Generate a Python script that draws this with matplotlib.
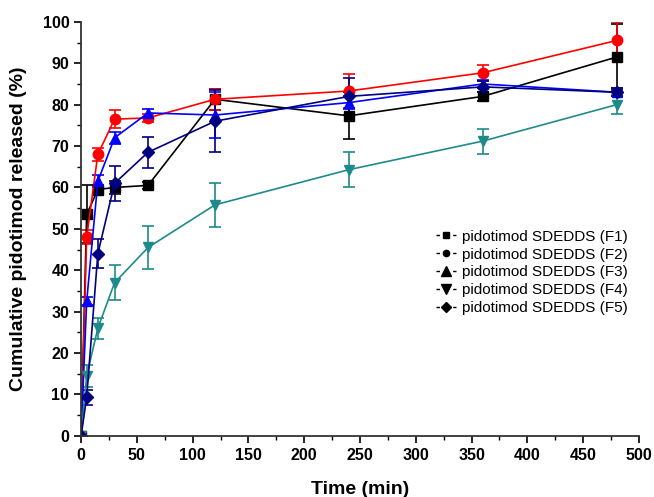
import numpy as np
import matplotlib.pyplot as plt
from matplotlib.lines import Line2D
from matplotlib.ticker import MultipleLocator

plt.rcParams['font.family'] = ['Liberation Sans', 'DejaVu Sans']

# tiempos de muestreo (min)
t = [0, 5, 15, 30, 60, 120, 240, 360, 480]

f1 = [0, 53.5, 59.5, 60.0, 60.5, 81.3, 77.3, 82.0, 91.5]
f1_err = [0, 7.0, 1.0, 1.5, 0.8, 2.5, 5.7, 1.0, 8.0]
f2 = [0, 48.0, 68.0, 76.5, 76.8, 81.3, 83.3, 87.7, 95.5]
f2_err = [0, 1.7, 1.5, 2.2, 1.0, 2.5, 4.0, 2.0, 4.5]
f3 = [0, 32.5, 61.5, 72.0, 78.0, 77.5, 80.5, 85.0, 83.0]
f3_err = [0, 1.0, 1.5, 1.5, 1.0, 5.5, 1.5, 1.0, 1.0]
f4 = [0, 14.5, 26.0, 37.0, 45.5, 55.8, 64.3, 71.2, 80.0]
f4_err = [0, 2.7, 2.5, 4.2, 5.2, 5.4, 4.2, 3.0, 2.3]
f5 = [0, 9.3, 44.0, 61.0, 68.5, 76.0, 82.0, 84.3, 83.0]
f5_err = [0, 1.8, 3.5, 4.3, 3.8, 7.5, 4.5, 1.3, 1.0]

labels = ['pidotimod SDEDDS (F1)', 'pidotimod SDEDDS (F2)', 'pidotimod SDEDDS (F3)',
          'pidotimod SDEDDS (F4)', 'pidotimod SDEDDS (F5)']

series = [(f1, f1_err, 's', 'black'),
          (f2, f2_err, 'o', '#ff0000'),
          (f3, f3_err, '^', '#0000ff'),
          (f4, f4_err, 'v', '#1f8a8a'),
          (f5, f5_err, 'D', '#000080')]

fig = plt.figure(figsize=(6.54, 4.97), dpi=100)
ax = fig.add_axes([0.124, 0.123, 0.853, 0.833])

for y, e, m, c in series:
    ms = 6.5 if m == 'D' else 7.5
    ax.errorbar(t, y, yerr=e, color=c, marker=m, markersize=ms, linewidth=1.2,
                elinewidth=1.2, capsize=4, capthick=1.2)

ax.set_xlim(0, 500)
ax.set_ylim(0, 100)
ax.xaxis.set_major_locator(MultipleLocator(50))
ax.xaxis.set_minor_locator(MultipleLocator(25))
ax.yaxis.set_major_locator(MultipleLocator(10))
ax.yaxis.set_minor_locator(MultipleLocator(5))
ax.spines['top'].set_visible(False)
ax.spines['right'].set_visible(False)
for s in ['left', 'bottom']:
    ax.spines[s].set_linewidth(1.3)
    ax.spines[s].set_color('#333333')
ax.tick_params(which='major', direction='out', length=5, width=1.2, labelsize=11.5)
ax.tick_params(which='minor', direction='out', length=3, width=1.0)
for lab in ax.get_xticklabels() + ax.get_yticklabels():
    lab.set_fontweight('bold')

ax.set_xlabel('Time (min)', fontsize=14, fontweight='bold', labelpad=13)
ax.set_ylabel('Cumulative pidotimod released (%)', fontsize=14, fontweight='bold', labelpad=11)

# leyenda con marcadores negros
tamanos = {'s': 4.5, 'o': 4.5, '^': 7, 'v': 7, 'D': 5.5}
handles = [Line2D([], [], color='black', marker=m, markersize=tamanos[m],
                  linestyle=(0, (2.5, 9.5)), linewidth=1.0) for _, _, m, _ in series]
ax.legend(handles, labels, loc='center right', bbox_to_anchor=(1.005, 0.395),
          frameon=False, fontsize=11, handlelength=1.3, labelspacing=0.25,
          handletextpad=0.4)

fig.savefig('out.png', dpi=100)
